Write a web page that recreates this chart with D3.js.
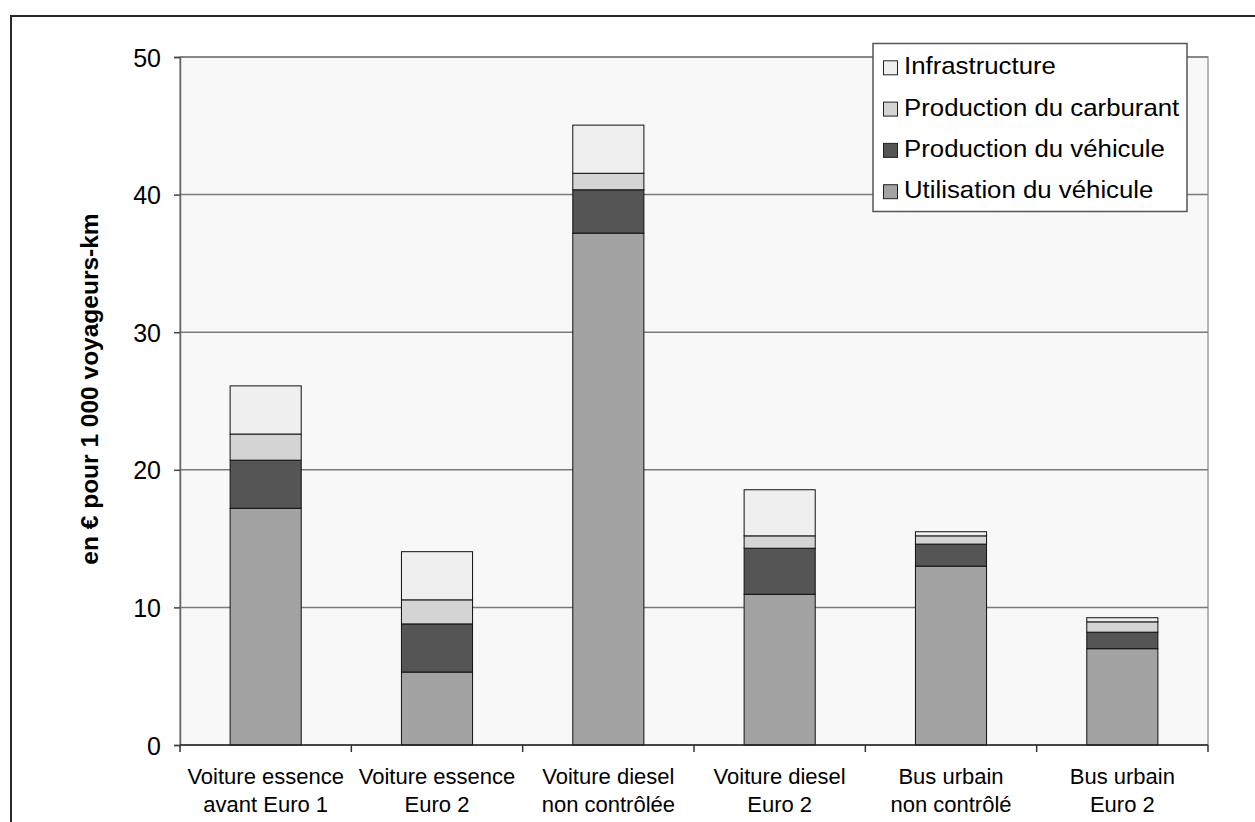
<!DOCTYPE html>
<html>
<head>
<meta charset="utf-8">
<script src="https://cdn.jsdelivr.net/npm/d3@7/dist/d3.min.js"></script>
<style>
  html, body { margin: 0; padding: 0; background: #ffffff; }
  svg { display: block; font-family: "Liberation Sans", Arial, sans-serif; }
</style>
</head>
<body>
<svg id="chart" width="1255" height="822"></svg>
<script>
// Transport categories (two-line labels)
const categories = [
  ["Voiture essence", "avant Euro 1"],
  ["Voiture essence", "Euro 2"],
  ["Voiture diesel", "non contrôlée"],
  ["Voiture diesel", "Euro 2"],
  ["Bus urbain", "non contrôlé"],
  ["Bus urbain", "Euro 2"]
];

// Stacked components, bottom to top (€ per 1 000 passenger-km)
const utilisation = [17.2, 5.3, 37.2, 10.95, 13.0, 7.0];
const productionVehicule = [3.5, 3.5, 3.15, 3.35, 1.6, 1.2];
const productionCarburant = [1.9, 1.75, 1.2, 0.9, 0.6, 0.75];
const infrastructure = [3.5, 3.5, 3.5, 3.35, 0.3, 0.3];

const seriesNames = ["Utilisation du véhicule", "Production du véhicule", "Production du carburant", "Infrastructure"];
const seriesColors = ["#a3a3a3", "#555555", "#d4d4d4", "#efefef"];
const yTicks = [0, 10, 20, 30, 40, 50];

const FONT = "'Liberation Sans', Arial, sans-serif";
const svg = d3.select("#chart");
const margin = { left: 180, right: 1208, top: 57, bottom: 745 };

// Outer chart frame (only left and top edges fall within view)
svg.append("rect")
  .attr("x", 11).attr("y", 16)
  .attr("width", 1300).attr("height", 900)
  .attr("fill", "none").attr("stroke", "#2a2a2a").attr("stroke-width", 2);

const rows = categories.map((c, i) => ({
  key: i,
  "Utilisation du véhicule": utilisation[i],
  "Production du véhicule": productionVehicule[i],
  "Production du carburant": productionCarburant[i],
  "Infrastructure": infrastructure[i]
}));

const x = d3.scaleBand().domain(d3.range(categories.length))
  .range([margin.left, margin.right]).paddingInner(0.585).paddingOuter(0.2925);
const xBand = d3.scaleBand().domain(d3.range(categories.length))
  .range([margin.left, margin.right]);
const y = d3.scaleLinear().domain([0, 50]).range([margin.bottom, margin.top]);

// Plot background
svg.append("rect")
  .attr("x", margin.left).attr("y", margin.top)
  .attr("width", margin.right - margin.left).attr("height", margin.bottom - margin.top)
  .attr("fill", "#f8f8f8").attr("stroke", "#a0a0a0").attr("stroke-width", 1.5);

// Gridlines
svg.append("g").selectAll("line").data(yTicks.filter(t => t > 0)).join("line")
  .attr("x1", margin.left).attr("x2", margin.right)
  .attr("y1", d => y(d)).attr("y2", d => y(d))
  .attr("stroke", "#7a7a7a").attr("stroke-width", 1.5);

// Stacked bars
const stack = d3.stack().keys(seriesNames);
const layers = stack(rows);
svg.append("g").selectAll("g").data(layers).join("g")
  .attr("fill", (d, i) => seriesColors[i])
  .selectAll("rect").data(d => d).join("rect")
  .attr("x", (d, i) => x(i))
  .attr("width", x.bandwidth())
  .attr("y", d => y(d[1]))
  .attr("height", d => y(d[0]) - y(d[1]))
  .attr("stroke", "#111").attr("stroke-width", 1);

// Y axis
const yAxis = d3.axisLeft(y).tickValues(yTicks).tickSize(6).tickPadding(13);
const gy = svg.append("g").attr("transform", `translate(${margin.left},0)`).call(yAxis)
  .attr("font-family", FONT).attr("font-size", 25);
gy.select(".domain").attr("stroke", "#666").attr("stroke-width", 1.5);
gy.selectAll(".tick line").attr("stroke", "#444").attr("stroke-width", 1.5);
gy.selectAll(".tick text").attr("fill", "#000").attr("dy", "0.36em");

// X axis with ticks at band boundaries
const gx = svg.append("g");
gx.append("line").attr("x1", margin.left).attr("x2", margin.right)
  .attr("y1", margin.bottom).attr("y2", margin.bottom)
  .attr("stroke", "#222").attr("stroke-width", 1.5);
const boundaries = d3.range(categories.length + 1).map(i =>
  i < categories.length ? xBand(i) : xBand(i - 1) + xBand.bandwidth());
gx.selectAll("line.tk").data(boundaries).join("line").attr("class", "tk")
  .attr("x1", d => d).attr("x2", d => d)
  .attr("y1", margin.bottom).attr("y2", margin.bottom + 7)
  .attr("stroke", "#333").attr("stroke-width", 1.5);

const labels = gx.selectAll("text").data(categories).join("text")
  .attr("text-anchor", "middle")
  .attr("font-family", FONT).attr("font-size", 22).attr("fill", "#000")
  .attr("transform", (d, i) => `translate(${xBand(i) + xBand.bandwidth() / 2},0)`);
labels.selectAll("tspan").data(d => d).join("tspan")
  .attr("x", 0).attr("y", (d, j) => 783.5 + j * 28.3).text(d => d);

// Y axis title
svg.append("text")
  .attr("transform", "translate(98,389) rotate(-90)")
  .attr("text-anchor", "middle")
  .attr("font-family", FONT)
  .attr("font-size", 24.5).attr("font-weight", "bold").attr("fill", "#000")
  .text("en € pour 1 000 voyageurs-km");

// Legend (top item = top of stack)
const legend = svg.append("g");
legend.append("rect").attr("x", 873).attr("y", 43.5).attr("width", 314).attr("height", 168)
  .attr("fill", "#fff").attr("stroke", "#555").attr("stroke-width", 1.5);
const legendOrder = [3, 2, 1, 0];
const items = legend.selectAll("g.item").data(legendOrder).join("g").attr("class", "item")
  .attr("transform", (d, i) => `translate(883,${74.3 + i * 41.3})`);
items.append("rect").attr("x", 0.5).attr("y", -13.5).attr("width", 14).attr("height", 14)
  .attr("fill", d => seriesColors[d]).attr("stroke", "#222").attr("stroke-width", 1);
items.append("g").attr("transform", "translate(21,0) scale(1.075,1)")
  .append("text").attr("x", 0).attr("y", 0)
  .attr("font-family", FONT).attr("font-size", 24).attr("fill", "#000")
  .text(d => seriesNames[d]);
</script>
</body>
</html>
